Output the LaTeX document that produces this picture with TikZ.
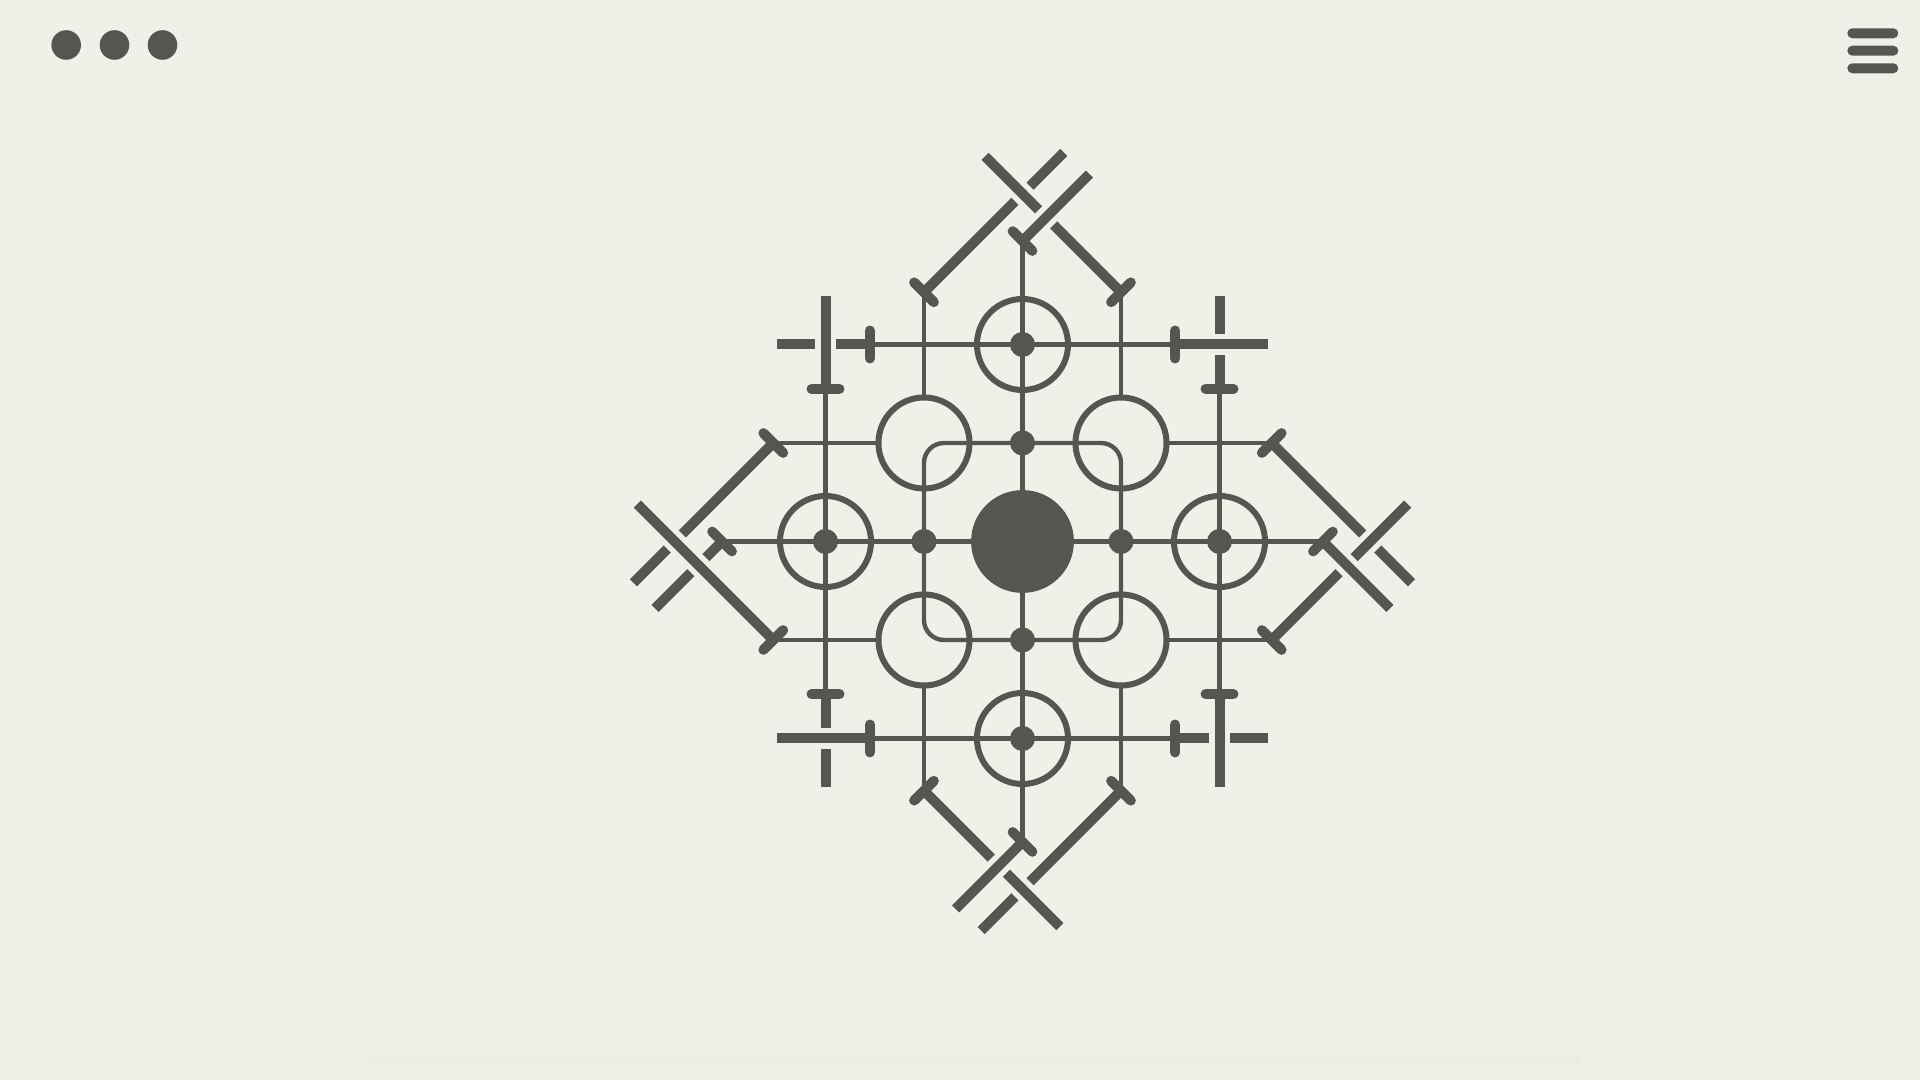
\documentclass[tikz,border=0pt]{standalone}
\definecolor{bg}{RGB}{241,240,232}
\definecolor{fg}{RGB}{86,85,81}
\definecolor{band}{RGB}{236,235,227}
\tikzset{
  gridline/.style={draw=fg, line width=2.2pt},
  ringline/.style={draw=fg, line width=3pt},
  bar/.style={draw=fg, line width=5pt, line cap=butt},
  overbar/.style={bar, preaction={draw=bg, line width=10.5pt, line cap=butt}},
  capbar/.style={draw=fg, line width=5pt, line cap=round},
  dotfill/.style={fill=fg, draw=none},
}
\newcommand{\armLone}{\draw[bar] (-1,2.53) -- ++(1.42,1.42);}
\newcommand{\armB}[1]{\draw[#1] (1,2.53) -- ++(-1.38,1.38);}
\newcommand{\armLtwo}[1]{\draw[#1] (0,3.05) -- ++(0.68,0.68);}
\newcommand{\armCaps}{%
  \draw[capbar] (-1.1,2.63) -- (-0.9,2.43);
  \draw[capbar] (0.9,2.43) -- (1.1,2.63);
  \draw[capbar] (-0.1,3.15) -- (0.1,2.95);}
\begin{document}
\begin{tikzpicture}[x=0.5pt,y=0.5pt]
  \useasboundingbox (-1022.5,-538.5) rectangle (897.5,541.5);
  \fill[bg] (-1022.5,-538.5) rectangle (897.5,541.5);
  % faint band near the bottom
  \fill[band] (-655.5,-522.5) rectangle (557.5,-515.5);
  % window dots
  \fill[fg] (-956.3,496.5) circle (14.8);
  \fill[fg] (-908,496.5) circle (14.8);
  \fill[fg] (-860,496.5) circle (14.8);
  % hamburger menu
  \foreach \yy in {508.2,490.8,473.2}
    \fill[fg, rounded corners=2.5pt] (824.8,\yy-5) rectangle (875.8,\yy+5);

  \begin{scope}[x=49.25pt,y=49.25pt]
    % thin grid lines
    \draw[gridline] (-1.55,2) -- (1.55,2);
    \draw[gridline] (-1.55,-2) -- (1.55,-2);
    \draw[gridline] (-2,-1.55) -- (-2,1.55);
    \draw[gridline] (2,-1.55) -- (2,1.55);
    \draw[gridline] (-3.05,0) -- (3.05,0);
    \draw[gridline] (0,-3.05) -- (0,3.05);
    \draw[gridline] (-2.53,1) -- (-1.462,1);
    \draw[gridline] (1.462,1) -- (2.53,1);
    \draw[gridline] (-2.53,-1) -- (-1.462,-1);
    \draw[gridline] (1.462,-1) -- (2.53,-1);
    \draw[gridline] (-1,2.53) -- (-1,1.462);
    \draw[gridline] (1,2.53) -- (1,1.462);
    \draw[gridline] (-1,-2.53) -- (-1,-1.462);
    \draw[gridline] (1,-2.53) -- (1,-1.462);
    % rounded L paths inside the diagonal rings
    \draw[gridline, rounded corners=10pt] (0,1) -- (-1,1) -- (-1,0);
    \draw[gridline, rounded corners=10pt] (0,1) -- (1,1) -- (1,0);
    \draw[gridline, rounded corners=10pt] (0,-1) -- (-1,-1) -- (-1,0);
    \draw[gridline, rounded corners=10pt] (0,-1) -- (1,-1) -- (1,0);
    % rings
    \foreach \p in {(0,2),(0,-2),(2,0),(-2,0),(1,1),(-1,1),(1,-1),(-1,-1)}
      \draw[ringline] \p circle (0.462);
    % dots
    \foreach \p in {(0,1),(0,-1),(1,0),(-1,0),(0,2),(0,-2),(2,0),(-2,0)}
      \fill[dotfill] \p circle (0.127);
    % central disc
    \fill[dotfill] (0,0) circle (0.522);

    % corner crossings
    \foreach \a in {0,-90,180,90}{
      \begin{scope}[rotate=\a]
        \draw[bar] (-1.55,2) -- (-2.49,2);
        \draw[overbar] (-2,1.55) -- (-2,2.49);
        \draw[capbar] (-1.55,1.858) -- (-1.55,2.142);
        \draw[capbar] (-2.142,1.55) -- (-1.858,1.55);
      \end{scope}
    }
    % arms: top, right, bottom
    \foreach \a in {0,-90,180}{
      \begin{scope}[rotate=\a]
        \armLone
        \armB{overbar}
        \armLtwo{overbar}
        \armCaps
      \end{scope}
    }
    % left arm (mirrored, different weave)
    \begin{scope}[cm={0,-1,-1,0,(0,0)}]
      \armLone
      \armLtwo{bar}
      \armB{overbar}
      \armCaps
    \end{scope}
  \end{scope}
\end{tikzpicture}
\end{document}
